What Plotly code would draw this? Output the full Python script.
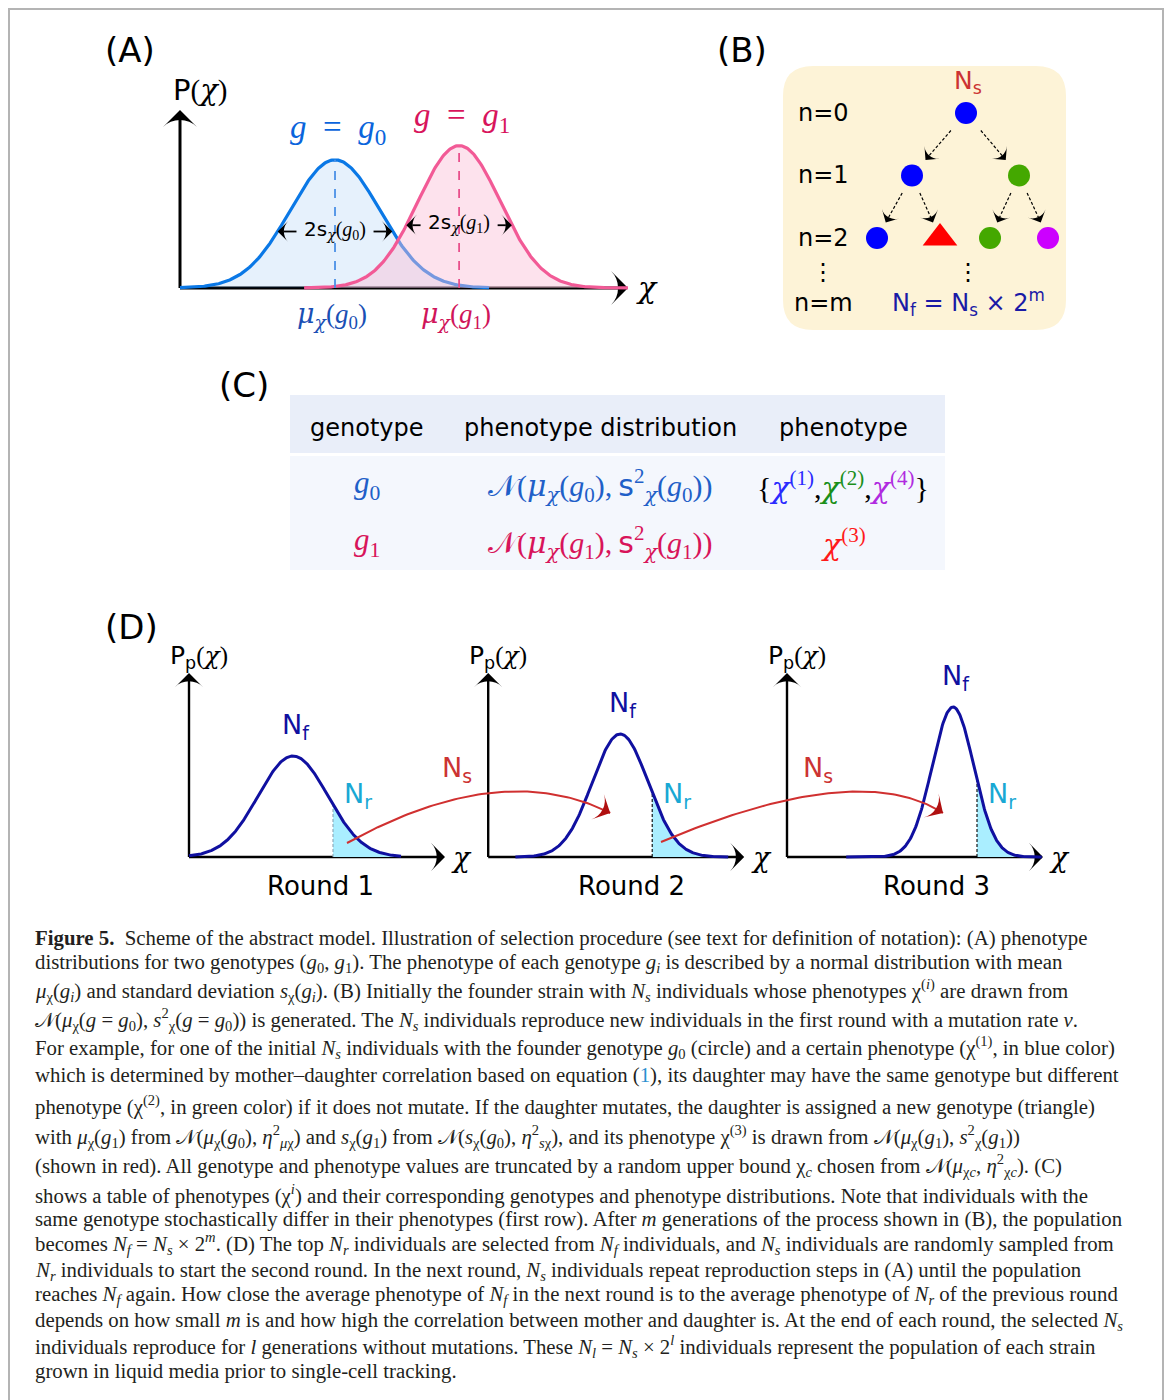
import numpy as np
import plotly.graph_objects as go

W, H = 1168, 1400
SANS = "DejaVu Sans"
SERIF = "Liberation Serif"
GREEK = "DejaVu Serif"
CAPTION_FONT = "Liberation Serif"

# ------------------------------------------------------------------ data
# Panel A: phenotype distributions of two genotypes (panel-A axis units)
a_labels = ["0", "1"]
a_mean = [3.46, 6.23]
a_sd = [1.00, 0.92]
a_peak = [0.72, 0.80]
a_start = [0.0, 2.77]
a_end = [6.90, 10.0]
a_halfwidth_k = 1.28
a_axis_x_len = 10.0
a_axis_y_len = 1.0

# Panel B: lineage tree (x in tree units, y = generation n)
b_node_x = [18.3, 12.9, 23.6, 9.4, 15.7, 20.7, 26.5]
b_node_gen = [0, 1, 1, 2, 2, 2, 2]
b_node_parent = [-1, 0, 0, 1, 1, 2, 2]
b_node_genotype = [0, 0, 0, 0, 1, 0, 0]
b_node_pheno = [1, 1, 2, 1, 3, 2, 4]
b_gen_labels = ["n=0", "n=1", "n=2", "⋮", "n=m"]
b_gen_rows = [0, 1, 2, 2.55, 3.04]

# Panel C: table
c_headers = ["genotype", "phenotype distribution", "phenotype"]
c_genotype_index = [0, 1]
c_phenotype_members = [[1, 2, 4], [3]]

# Panel D: selection rounds (panel-D axis units)
d_rounds = ["Round 1", "Round 2", "Round 3"]
d_offset = [0.0, 7.48, 14.95]
d_mean = [2.60, 3.30, 4.15]
d_sd = [0.87, 0.70, 0.52]
d_peak = [2.525, 3.075, 3.75]
d_cut = [3.60, 4.10, 4.75]
d_start = [0.0, 0.68, 1.48]
d_end = [5.30, 6.00, 6.37]
d_axis_x_len = 6.4
d_axis_y_len = 4.6
d_arrow_p0 = [(3.95, 0.35), (11.80, 0.375)]
d_arrow_p1 = [(7.81, 2.475), (16.73, 2.46)]
d_arrow_p2 = [(10.53, 1.10), (18.85, 1.10)]
d_ns_label_x = [6.70, 15.72]

# ------------------------------------------------------------------ styles
A_LINE = ["#0a78e6", "#f25a96"]
A_FILL = ["rgba(10,120,230,0.10)", "rgba(250,190,215,0.45)"]
A_DASH = ["#4a90e6", "#e8508c"]
A_LABEL = ["#0a64dc", "#d8145c"]
A_MU = ["#1a4fb4", "#d0145a"]
B_PHENO = {1: "#0000ff", 2: "#44a800", 3: "#ff0000", 4: "#cc00ff"}
C_ROW = ["#1f5fc8", "#d8145a"]
C_PHENO = {1: "#2a2aff", 2: "#1a8f1a", 3: "#ff1a1a", 4: "#b02ae0"}
NAVY = "#1010a0"
CYAN_TXT = "#19a8d4"
RED_TXT = "#cc3333"

fig = go.Figure()


def PX(px):
    return px / W


def PY(py):
    return 1 - py / H


def setup_axes(n, box, origin, ppu, y_down=False):
    x0, y0, x1, y1 = box
    ox, oy = origin
    ux, uy = ppu
    s = "" if n == 1 else str(n)
    xr = [(x0 - ox) / ux, (x1 - ox) / ux]
    if y_down:
        yr = [(y1 - oy) / uy, (y0 - oy) / uy]
    else:
        yr = [(oy - y1) / uy, (oy - y0) / uy]
    fig.update_layout(**{
        "xaxis" + s: dict(domain=[PX(x0), PX(x1)], range=xr, visible=False,
                          fixedrange=True, anchor="y" + s),
        "yaxis" + s: dict(domain=[PY(y1), PY(y0)], range=yr, visible=False,
                          fixedrange=True, anchor="x" + s),
    })
    return "x" + s, "y" + s


def mi(s):
    return f'<span style="font-family:{SERIF}"><i>{s}</i></span>'


def mg(s):
    return f'<span style="font-family:{GREEK}"><i>{s}</i></span>'


def mr(s):
    return f'<span style="font-family:{SERIF}">{s}</span>'


def text(xref, yref, x, y, s, size, color="black", family=SANS,
         xanchor="center", yanchor="middle"):
    fig.add_annotation(x=x, y=y, xref=xref, yref=yref, text=s, showarrow=False,
                       font=dict(size=size, color=color, family=family),
                       xanchor=xanchor, yanchor=yanchor)


def arrow(xa, ya, xs, ys, color, width, head, dash="solid", symbol="arrow-wide"):
    n = len(xs)
    fig.add_trace(go.Scatter(
        x=list(xs), y=list(ys), xaxis=xa, yaxis=ya, mode="lines+markers",
        line=dict(color=color, width=width, dash=dash),
        marker=dict(symbol=symbol, size=[0] * (n - 1) + [head], angleref="previous",
                    color=color, opacity=1, line=dict(width=0)),
        hoverinfo="skip", showlegend=False, cliponaxis=False))


def line(xa, ya, xs, ys, color, width, dash="solid", fill=None, fillcolor=None):
    fig.add_trace(go.Scatter(
        x=list(xs), y=list(ys), xaxis=xa, yaxis=ya, mode="lines",
        line=dict(color=color, width=width, dash=dash), fill=fill,
        fillcolor=fillcolor, hoverinfo="skip", showlegend=False, cliponaxis=False))


def gauss(x, mu, sd, peak):
    return peak * np.exp(-0.5 * ((x - mu) / sd) ** 2)


# ------------------------------------------------------------------ panel letters
for lab, (px, py) in zip(["(A)", "(B)", "(C)", "(D)"],
                         [(130, 50), (742, 50), (244, 385), (131, 627)]):
    text("paper", "paper", PX(px), PY(py), lab, 34)

# ------------------------------------------------------------------ panel A
xa, ya = setup_axes(1, (60, 20, 700, 350), (180, 288), (44.8, 178))
arrow(xa, ya, [0, a_axis_x_len], [0, 0], "black", 3, 24)
arrow(xa, ya, [0, 0], [0, a_axis_y_len], "black", 3, 24)
for i in range(2):
    xs = np.linspace(a_start[i], a_end[i], 300)
    ys = gauss(xs, a_mean[i], a_sd[i], a_peak[i])
    line(xa, ya, xs, ys, A_LINE[i], 3.2, fill="tozeroy", fillcolor=A_FILL[i])
for i in range(2):
    line(xa, ya, [a_mean[i], a_mean[i]], [0, a_peak[i]], A_DASH[i], 1.8, dash="dash")
    hw = a_halfwidth_k * a_sd[i]
    yv = float(gauss(a_mean[i] + hw, a_mean[i], a_sd[i], a_peak[i]))
    inner = 0.86
    arrow(xa, ya, [a_mean[i] - inner, a_mean[i] - hw], [yv, yv], "black", 1.8, 15)
    arrow(xa, ya, [a_mean[i] + inner, a_mean[i] + hw], [yv, yv], "black", 1.8, 15)
    text(xa, ya, a_mean[i], yv + 0.01,
         "2s<sub>" + mg("χ") + "</sub>" + mr("(") + mi("g") + "<sub>" + mr(a_labels[i]) + "</sub>" + mr(")"),
         20)
    text(xa, ya, a_mean[i] + 0.07, a_peak[i] + 0.17 - 0.01 * i,
         mi("g") + mr("\u2002=\u2002") + mi("g") + "<sub>" + mr(a_labels[i]) + "</sub>",
         33, A_LABEL[i], family=SERIF)
    text(xa, ya, a_mean[i] - 0.07, -0.152,
         mg("μ") + "<sub>" + mg("χ") + "</sub>" + mr("(") + mi("g") + "<sub>" + mr(a_labels[i]) + "</sub>" + mr(")"),
         27, A_MU[i], family=SERIF)
text(xa, ya, 0.446, 1.112, "P" + mr("(") + mg("χ") + mr(")"), 29)
text(xa, ya, a_axis_x_len + 0.42, 0, mg("χ"), 30, family=SERIF)

# ------------------------------------------------------------------ panel B
xb, yb = setup_axes(2, (700, 20, 1110, 350), (783, 113), (10, 62.5), y_down=True)
bx0, bx1, by0, by1, rx, ry = 0.0, 28.3, -0.752, 3.472, 3.0, 0.48
path = (f"M{bx0 + rx},{by0} L{bx1 - rx},{by0} Q{bx1},{by0} {bx1},{by0 + ry} "
        f"L{bx1},{by1 - ry} Q{bx1},{by1} {bx1 - rx},{by1} L{bx0 + rx},{by1} "
        f"Q{bx0},{by1} {bx0},{by1 - ry} L{bx0},{by0 + ry} Q{bx0},{by0} {bx0 + rx},{by0} Z")
fig.add_shape(type="path", path=path, xref=xb, yref=yb, fillcolor="#fdf3d7",
              line=dict(width=0), layer="below")
for i, p in enumerate(b_node_parent):
    if p < 0:
        continue
    x0, y0 = b_node_x[p], b_node_gen[p]
    x1, y1 = b_node_x[i], b_node_gen[i]
    fs, fe = 0.28, 0.75
    arrow(xb, yb, [x0 + fs * (x1 - x0), x0 + fe * (x1 - x0)],
          [y0 + fs * (y1 - y0), y0 + fe * (y1 - y0)], "black", 1.2, 14, dash="3px,2px")
fig.add_trace(go.Scatter(
    x=b_node_x, y=b_node_gen, xaxis=xb, yaxis=yb, mode="markers",
    marker=dict(size=[30 if g == 1 else 22 for g in b_node_genotype],
                symbol=["triangle-up" if g == 1 else "circle" for g in b_node_genotype],
                color=[B_PHENO[k] for k in b_node_pheno], opacity=1, line=dict(width=0)),
    hoverinfo="skip", showlegend=False))
for lab, r in zip(b_gen_labels, b_gen_rows):
    text(xb, yb, 4.0, r, lab, 24)
text(xb, yb, b_node_x[0] + 0.2, -0.5, "N<sub>s</sub>", 25, RED_TXT)
text(xb, yb, b_node_x[0] + 0.2, 2.55, "⋮", 24)
text(xb, yb, b_node_x[0] + 0.2, 3.04, "N<sub>f</sub> = N<sub>s</sub> × 2<sup>m</sup>", 24, "#1a1aa6")

# ------------------------------------------------------------------ panel C (table)
fig.add_shape(type="rect", xref="paper", yref="paper", x0=PX(290), x1=PX(945),
              y0=PY(453), y1=PY(395), fillcolor="#e9eef9", line=dict(width=0), layer="below")
fig.add_shape(type="rect", xref="paper", yref="paper", x0=PX(290), x1=PX(945),
              y0=PY(570), y1=PY(456), fillcolor="#f4f7fd", line=dict(width=0), layer="below")
col_px = [367, 600, 843]
for h, cx in zip(c_headers, col_px):
    text("paper", "paper", PX(cx), PY(428), h, 24)
for r, (gi, members) in enumerate(zip(c_genotype_index, c_phenotype_members)):
    py = [485, 542][r]
    col = C_ROW[r]
    g = mi("g") + "<sub>" + mr(str(gi)) + "</sub>"
    text("paper", "paper", PX(col_px[0]), PY(py), g, 31, col, family=SERIF)
    dist = (mr("𝒩(") + mg("μ") + "<sub>" + mg("χ") + "</sub>" + mr("(") + g + mr("),\u2009") +
            '<span style="font-family:DejaVu Sans">s</span><sup>2</sup><sub>' + mg("χ") + "</sub>" +
            mr("(") + g + mr("))"))
    text("paper", "paper", PX(col_px[1]), PY(py), dist, 30, col, family=SERIF)
    chis = [f'<span style="color:{C_PHENO[k]}">' + mg("χ") + f"<sup>({k})</sup></span>" for k in members]
    if len(chis) > 1:
        ph = mr("{") + mr(",").join(chis) + mr("}")
    else:
        ph = chis[0]
    text("paper", "paper", PX(col_px[2]), PY(py), ph, 30, "black", family=SERIF)

# ------------------------------------------------------------------ panel D
xd, yd = setup_axes(4, (60, 600, 1110, 910), (189, 857), (40, 40))
for k in range(3):
    o = d_offset[k]
    arrow(xd, yd, [o, o + d_axis_x_len], [0, 0], "black", 2.4, 20)
    arrow(xd, yd, [o, o], [0, d_axis_y_len], "black", 2.4, 20)
    xs = np.linspace(d_cut[k], d_end[k], 120)
    line(xd, yd, o + xs, gauss(xs, d_mean[k], d_sd[k], d_peak[k]), "rgba(0,0,0,0)", 0,
         fill="tozeroy", fillcolor="#aaeeff")
    yc = float(gauss(d_cut[k], d_mean[k], d_sd[k], d_peak[k]))
    line(xd, yd, [o + d_cut[k]] * 2, [0, yc], "#8aa4b4" if k == 0 else "black", 1.1, dash="3px,2px")
    xs = np.linspace(d_start[k], d_end[k], 300)
    line(xd, yd, o + xs, gauss(xs, d_mean[k], d_sd[k], d_peak[k]), NAVY, 3)
    text(xd, yd, o + d_mean[k] + 0.07, d_peak[k] + 0.75, "N<sub>f</sub>", 27, NAVY)
    text(xd, yd, o + d_cut[k] + 0.62, 1.55, "N<sub>r</sub>", 27, CYAN_TXT)
    text(xd, yd, o + 0.25, 5.0, "P<sub>p</sub>" + mr("(") + mg("χ") + mr(")"), 25)
    text(xd, yd, o + d_axis_x_len + 0.42, 0, mg("χ"), 28, family=SERIF)
    text(xd, yd, o + [3.28, 3.58, 3.74][k], -0.725, d_rounds[k], 26)
t = np.linspace(0, 1, 80)
for j, (p0, p1, p2) in enumerate(zip(d_arrow_p0, d_arrow_p1, d_arrow_p2)):
    bx = (1 - t) ** 2 * p0[0] + 2 * (1 - t) * t * p1[0] + t ** 2 * p2[0]
    by = (1 - t) ** 2 * p0[1] + 2 * (1 - t) * t * p1[1] + t ** 2 * p2[1]
    line(xd, yd, bx, by, "#d03030", 2)
    arrow(xd, yd, bx[-6:], by[-6:], "#b01010", 0.1, 20)
    text(xd, yd, d_ns_label_x[j], 2.18, "N<sub>s</sub>", 27, RED_TXT)

# ------------------------------------------------------------------ caption
I = lambda s: f"<i>{s}</i>"
Ns, Nf, Nr = I("N<sub>s</sub>"), I("N<sub>f</sub>"), I("N<sub>r</sub>")
mux = I("μ") + "<sub>χ</sub>"
sx = I("s") + "<sub>χ</sub>"
g0, g1 = I("g") + "<sub>0</sub>", I("g") + "<sub>1</sub>"
NN = "𝒩"
caption_lines = [
    "<b>Figure 5.</b>  Scheme of the abstract model. Illustration of selection procedure (see text for definition of notation): (A) phenotype",
    f"distributions for two genotypes ({g0}, {g1}). The phenotype of each genotype {I('g<sub>i</sub>')} is described by a normal distribution with mean",
    f"{mux}({I('g<sub>i</sub>')}) and standard deviation {sx}({I('g<sub>i</sub>')}). (B) Initially the founder strain with {Ns} individuals whose phenotypes χ<sup>({I('i')})</sup> are drawn from",
    f"{NN}({mux}({I('g')} = {g0}), {I('s')}<sup>2</sup><sub>χ</sub>({I('g')} = {g0})) is generated. The {Ns} individuals reproduce new individuals in the first round with a mutation rate {I('ν')}.",
    f"For example, for one of the initial {Ns} individuals with the founder genotype {g0} (circle) and a certain phenotype (χ<sup>(1)</sup>, in blue color)",
    "which is determined by mother–daughter correlation based on equation (<span style=\"color:#2a8fd0\">1</span>), its daughter may have the same genotype but different",
    "phenotype (χ<sup>(2)</sup>, in green color) if it does not mutate. If the daughter mutates, the daughter is assigned a new genotype (triangle)",
    f"with {mux}({g1}) from {NN}({mux}({g0}), {I('η')}<sup>2</sup><sub>{I('μ')}χ</sub>) and {sx}({g1}) from {NN}({sx}({g0}), {I('η')}<sup>2</sup><sub>{I('s')}χ</sub>), and its phenotype χ<sup>(3)</sup> is drawn from {NN}({mux}({g1}), {I('s')}<sup>2</sup><sub>χ</sub>({g1}))",
    f"(shown in red). All genotype and phenotype values are truncated by a random upper bound χ<sub>{I('c')}</sub> chosen from {NN}({I('μ')}<sub>χ{I('c')}</sub>, {I('η')}<sup>2</sup><sub>χ{I('c')}</sub>). (C)",
    f"shows a table of phenotypes (χ<sup>{I('i')}</sup>) and their corresponding genotypes and phenotype distributions. Note that individuals with the",
    f"same genotype stochastically differ in their phenotypes (first row). After {I('m')} generations of the process shown in (B), the population",
    f"becomes {Nf} = {Ns} × 2<sup>{I('m')}</sup>. (D) The top {Nr} individuals are selected from {Nf} individuals, and {Ns} individuals are randomly sampled from",
    f"{Nr} individuals to start the second round. In the next round, {Ns} individuals repeat reproduction steps in (A) until the population",
    f"reaches {Nf} again. How close the average phenotype of {Nf} in the next round is to the average phenotype of {Nr} of the previous round",
    f"depends on how small {I('m')} is and how high the correlation between mother and daughter is. At the end of each round, the selected {Ns}",
    f"individuals reproduce for {I('l')} generations without mutations. These {I('N<sub>l</sub>')} = {Ns} × 2<sup>{I('l')}</sup> individuals represent the population of each strain",
    "grown in liquid media prior to single-cell tracking.",
]
caption_y = [938, 963, 990, 1019, 1047, 1075, 1105, 1136, 1165, 1194, 1219, 1243, 1271, 1295, 1321, 1346, 1371]
for s, py in zip(caption_lines, caption_y):
    text("paper", "paper", PX(33), PY(py), s, 20.8, "#231f20", family=CAPTION_FONT, xanchor="left")

# ------------------------------------------------------------------ frame
fig.add_shape(type="rect", xref="paper", yref="paper", x0=PX(9), x1=PX(1163),
              y0=PY(1420), y1=PY(9), line=dict(color="#b4b4b4", width=2), fillcolor="rgba(0,0,0,0)")

fig.update_layout(width=W, height=H, margin=dict(l=0, r=0, t=0, b=0),
                  paper_bgcolor="white", plot_bgcolor="rgba(0,0,0,0)",
                  font=dict(family=SANS, color="black"), showlegend=False)
fig.write_html("out.html", config={"displayModeBar": False},
               post_script="document.body.style.margin='0';document.body.style.overflow='hidden';")
